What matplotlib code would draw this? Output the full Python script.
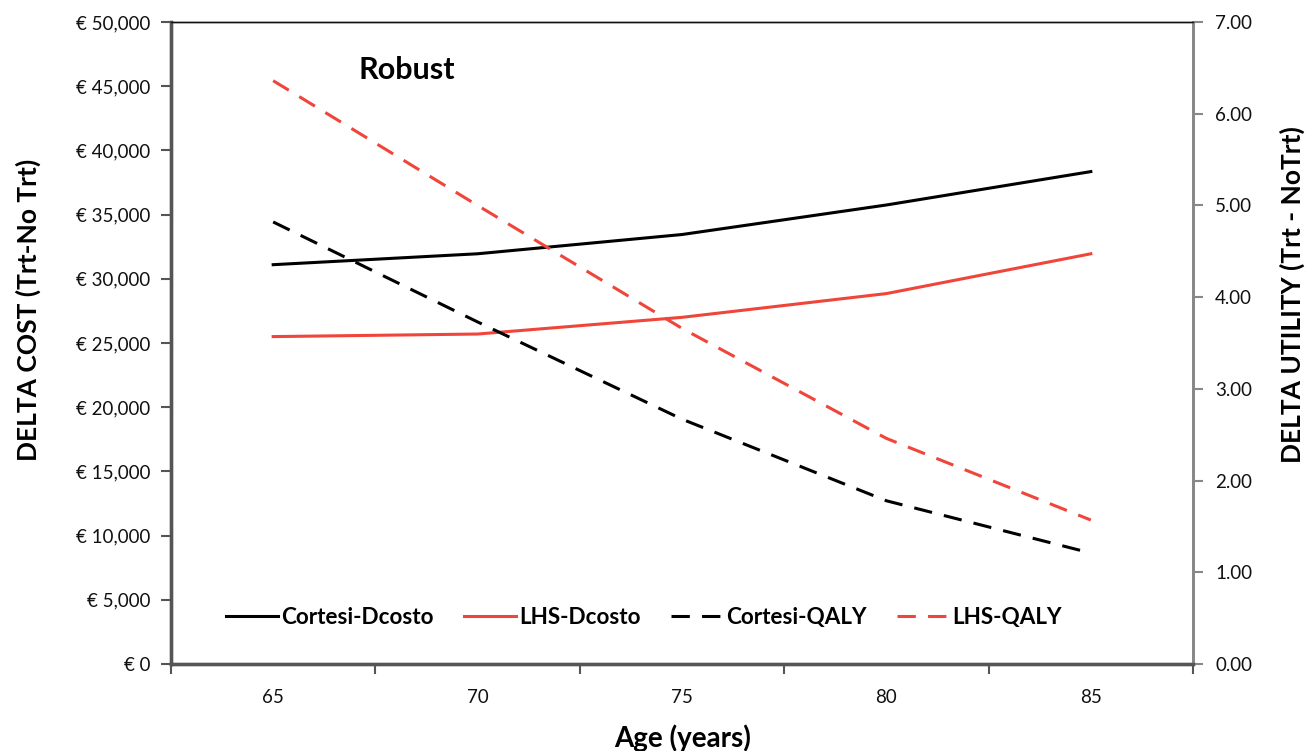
import matplotlib
matplotlib.use("Agg")
import matplotlib.pyplot as plt
from matplotlib.ticker import FuncFormatter, FixedLocator

plt.rcParams['font.family'] = ['Lato', 'DejaVu Sans']

ages = [65, 70, 75, 80, 85]
cortesi_dcosto = [31100, 31950, 33450, 35750, 38350]
lhs_dcosto = [25500, 25700, 27000, 28850, 31950]
cortesi_qaly = [4.82, 3.73, 2.67, 1.78, 1.21]
lhs_qaly = [6.36, 5.00, 3.66, 2.46, 1.57]

black = "#000000"
red = "#F0453A"
axis_gray = "#555555"

fig = plt.figure(figsize=(13.08, 7.51), dpi=100)
ax = fig.add_axes([0.1307, 0.1158, 0.7814, 0.8549])
ax2 = ax.twinx()

l1, = ax.plot(ages, cortesi_dcosto, color=black, lw=2.2, label="Cortesi-Dcosto")
l2, = ax.plot(ages, lhs_dcosto, color=red, lw=2.2, label="LHS-Dcosto")
l3, = ax2.plot(ages, cortesi_qaly, color=black, lw=2.2, linestyle=(0, (6, 4)), label="Cortesi-QALY")
l4, = ax2.plot(ages, lhs_qaly, color=red, lw=2.2, linestyle=(0, (6, 4)), label="LHS-QALY")

ax.set_xlim(62.5, 87.5)
ax.set_ylim(0, 50000)
ax2.set_ylim(0, 7)

# category-style x axis: labels at the ages, tick marks between them
ax.set_xticks(ages)
ax.xaxis.set_minor_locator(FixedLocator([62.5, 67.5, 72.5, 77.5, 82.5, 87.5]))
ax.tick_params(axis='x', which='major', length=0, pad=18, labelsize=13.5, colors="#111111")
ax.tick_params(axis='x', which='minor', length=7, width=1.5, color=axis_gray, direction='out')

ax.set_yticks(range(0, 50001, 5000))
ax.yaxis.set_major_formatter(FuncFormatter(lambda v, p: "€ {:,}".format(int(v))))
ax.tick_params(axis='y', length=7, width=1.5, color=axis_gray, labelsize=13.5, labelcolor="#111111", pad=8)

ax2.set_yticks([0, 1, 2, 3, 4, 5, 6, 7])
ax2.yaxis.set_major_formatter(FuncFormatter(lambda v, p: "{:.2f}".format(v)))
ax2.tick_params(axis='y', length=7, width=1.5, color="#888888", labelsize=13.5, labelcolor="#111111", pad=9)

for a in (ax, ax2):
    a.spines['left'].set_color(axis_gray)
    a.spines['left'].set_linewidth(2.4)
    a.spines['bottom'].set_color(axis_gray)
    a.spines['bottom'].set_linewidth(2.4)
    a.spines['top'].set_color("#111111")
    a.spines['top'].set_linewidth(1.0)
    a.spines['right'].set_color("#888888")
    a.spines['right'].set_linewidth(2.0)

fig.text(683 / 1308, 1 - 738 / 751, "Age (years)", fontsize=20, fontweight='bold',
         ha='center', va='center')
fig.text(28 / 1308, 1 - 310 / 751, "DELTA COST (Trt-No Trt)", fontsize=19, fontweight='bold',
         ha='center', va='center', rotation=90)
fig.text(1292 / 1308, 1 - 295 / 751, "DELTA UTILITY (Trt - NoTrt)", fontsize=19, fontweight='bold',
         ha='center', va='center', rotation=90)

ax.text(0.231, 0.925, "Robust", transform=ax.transAxes, fontsize=22, fontweight='bold',
        ha='center', va='center')

ax2.legend(handles=[l1, l2, l3, l4], loc='center', bbox_to_anchor=(0.463, 0.073), ncol=4,
           frameon=False, handlelength=2.3, handletextpad=0.15, columnspacing=1.35,
           prop={'size': 16.2, 'weight': 'bold'})

fig.savefig("out.png", dpi=100)
